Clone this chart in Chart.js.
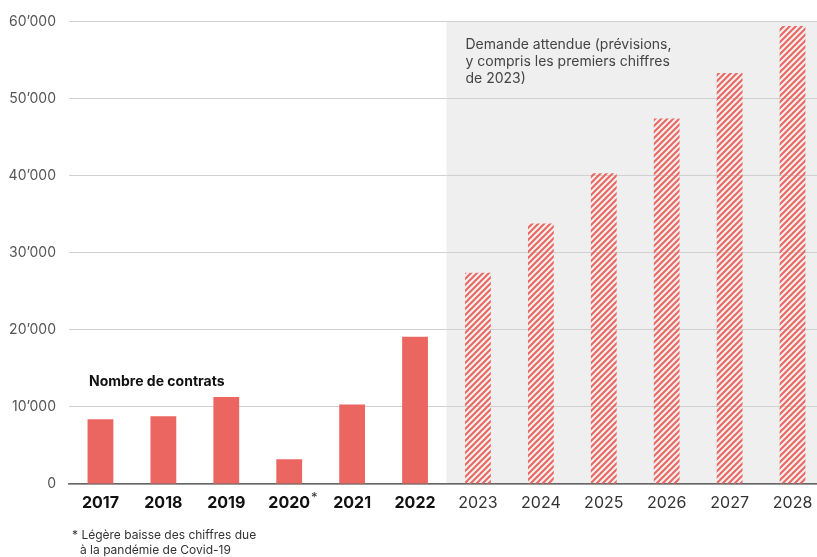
<!DOCTYPE html>
<html>
<head>
<meta charset="utf-8">
<script src="https://cdn.jsdelivr.net/npm/chart.js@4"></script>
<style>
  html, body { margin: 0; padding: 0; background: #fff; overflow: hidden; }
  #wrap { width: 824px; height: 557px; position: relative; }
</style>
</head>
<body>
<div id="wrap"><canvas id="demandeChart"></canvas></div>
<script>
const annees = ['2017', '2018', '2019', '2020', '2021', '2022', '2023', '2024', '2025', '2026', '2027', '2028'];
const contrats = [8400, 8800, 11300, 3200, 10300, 19100, 27400, 33800, 40300, 47400, 53300, 59400];
const nbReels = 6; // 2017-2022 réels, le reste = prévisions
const yTicks = [0, 10000, 20000, 30000, 40000, 50000, 60000];

const rouge = '#eb6661';
const police = 'Inter, Roboto, sans-serif';

// motif hachuré pour les prévisions
function hachures() {
  const c = document.createElement('canvas');
  c.width = 6; c.height = 6;
  const g = c.getContext('2d');
  g.strokeStyle = rouge;
  g.lineWidth = 2;
  g.beginPath();
  g.moveTo(0, 6); g.lineTo(6, 0);
  g.moveTo(-1, 1); g.lineTo(1, -1);
  g.moveTo(5, 7); g.lineTo(7, 5);
  g.stroke();
  return g.createPattern(c, 'repeat');
}
const motif = hachures();

const fmt = v => v === 0 ? '0' : String(v / 1000) + '\u2019000';

const zonePrevision = {
  id: 'zonePrevision',
  beforeDraw(chart) {
    const { ctx, chartArea, scales } = chart;
    const x0 = (scales.x.getPixelForTick(nbReels - 1) + scales.x.getPixelForTick(nbReels)) / 2;
    ctx.save();
    ctx.fillStyle = '#efefef';
    ctx.fillRect(x0, chartArea.top, chartArea.right - x0, chartArea.bottom - chartArea.top);
    ctx.restore();
  },
  afterDraw(chart) {
    const { ctx, scales } = chart;
    const x0 = (scales.x.getPixelForTick(nbReels - 1) + scales.x.getPixelForTick(nbReels)) / 2;
    ctx.save();
    ctx.textBaseline = 'middle';
    ctx.textAlign = 'left';

    // légende prévisions
    ctx.fillStyle = '#444';
    ctx.font = '14px ' + police;
    const lignes = ['Demande attendue (prévisions,', 'y compris les premiers chiffres', 'de 2023)'];
    lignes.forEach((t, i) => ctx.fillText(t, x0 + 19, 45 + i * 17));

    // titre série
    ctx.fillStyle = '#111';
    ctx.font = 'bold 14px ' + police;
    ctx.fillText('Nombre de contrats', 89, 382);

    // astérisque 2020
    ctx.font = 'bold 16px ' + police;
    const w = ctx.measureText('2020').width;
    ctx.fillStyle = '#333';
    ctx.font = '13px ' + police;
    ctx.fillText('*', scales.x.getPixelForTick(3) + w / 2 + 1, 498);

    // note de bas de page
    ctx.font = '12px ' + police;
    ctx.fillText('* Légère baisse des chiffres due', 72, 535);
    ctx.fillText('à la pandémie de Covid-19', 80, 550);
    ctx.restore();
  }
};

const ctx = document.getElementById('demandeChart').getContext('2d');
new Chart(ctx, {
  type: 'bar',
  data: {
    labels: annees,
    datasets: [{
      data: contrats,
      backgroundColor: contrats.map((v, i) => i < nbReels ? rouge : motif),
      barPercentage: 0.41,
      categoryPercentage: 1
    }]
  },
  options: {
    responsive: true,
    maintainAspectRatio: false,
    animation: false,
    layout: { padding: { top: 20, left: 0, right: 0, bottom: 0 } },
    plugins: { legend: { display: false }, tooltip: { enabled: false } },
    scales: {
      x: {
        grid: { display: false },
        border: { display: true, color: '#666', width: 1.5 },
        ticks: {
          padding: 2,
          color: c => c.index < nbReels ? '#111' : '#333',
          font: c => ({ family: police, size: 16, weight: c.index < nbReels ? 'bold' : 'normal' })
        },
        afterFit: s => { s.height = 73; }
      },
      y: {
        min: 0,
        max: 60000,
        afterBuildTicks: s => { s.ticks = yTicks.map(v => ({ value: v })); },
        grid: { color: '#d0d0d0', drawTicks: false, lineWidth: 1 },
        border: { display: false },
        ticks: {
          padding: 13,
          color: '#555',
          font: { family: police, size: 14 },
          callback: v => fmt(v)
        },
        afterFit: s => { s.width = 69; }
      }
    }
  },
  plugins: [zonePrevision]
});
</script>
</body>
</html>
